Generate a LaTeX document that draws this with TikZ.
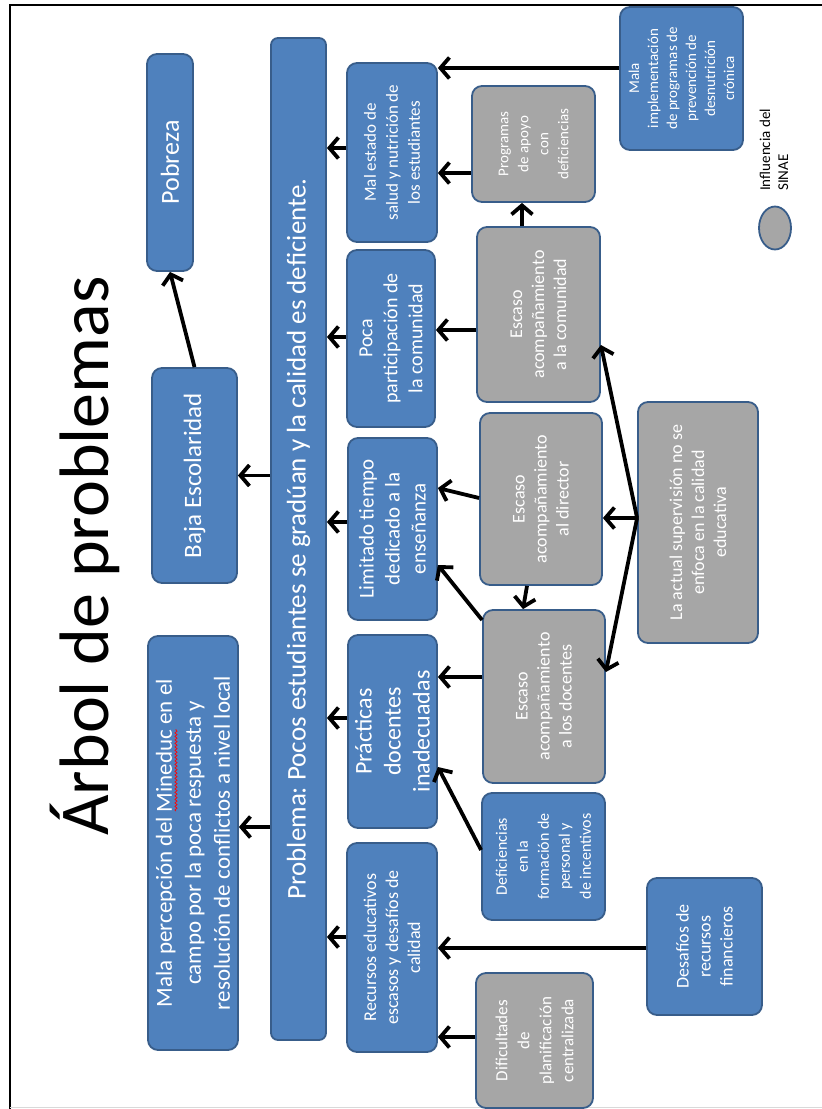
\documentclass[tikz,border=0pt]{standalone}
\usepackage{fontspec}
\setmainfont{Carlito}
\usetikzlibrary{arrows.meta,shapes.geometric,decorations.pathmorphing}
\definecolor{boxblue}{RGB}{79,129,189}
\definecolor{boxedge}{RGB}{56,93,138}
\definecolor{boxgray}{RGB}{166,166,166}
\def\fs#1#2{\fontsize{#1}{#2}\selectfont}
\frenchspacing
\tikzset{
	bluebox/.style={draw=boxedge, fill=boxblue, line width=1.8pt, rounded corners=10pt, text=white, align=center, rotate=90, inner sep=1pt},
	graybox/.style={bluebox, fill=boxgray},
	arr/.style={line width=3.8pt, -{Straight Barb[length=9pt,width=21pt]}}
}

\begin{document}
\begin{tikzpicture}[x=1pt, y=-1pt]
			%%%%% START %%%%%
			\useasboundingbox (0,0) rectangle (822,1109);
			\draw[line width=1.2pt] (10,1109) -- (10,5) -- (822,5);
			\draw[line width=0.8pt, color=black!15] (10,1107) -- (822,1107);
			
			\node[rotate=90, anchor=base, inner sep=0pt, font=\fs{70}{80}] (title) at (108,556) {Árbol de problemas};
			
			% efectos
			\node[bluebox, minimum width=217pt, minimum height=46pt, font=\fs{26}{31}] (pob) at (170,162.5) {Pobreza};
			\node[bluebox, minimum width=215pt, minimum height=85pt, font=\fs{25}{30}] (baja) at (194.5,475.5) {Baja Escolaridad};
			\node[bluebox, minimum width=414pt, minimum height=90pt, font=\fs{23}{29}] (malaper) at (193,843) {Mala percepción del Mineduc en el\\campo por la poca respuesta y\\resolución de conflictos a nivel local};
			\draw[red, line width=0.7pt, decorate, decoration={snake, amplitude=1.1pt, segment length=3.5pt}] (176,811) -- (176,729);
			
			\node[bluebox, rounded corners=7pt, minimum width=1002pt, minimum height=55pt, font=\fs{27}{32}] (prob) at (298.5,539) {Problema: Pocos estudiantes se gradúan y la calidad es deficiente.};
			
			% causas
			\node[bluebox, minimum width=179pt, minimum height=90pt, font=\fs{17}{22}] (malest) at (392,152.5) {Mal estado de\\salud y nutrición de\\los estudiantes};
			\node[bluebox, minimum width=177pt, minimum height=88pt, font=\fs{20}{25}] (poca) at (391,338.5) {Poca\\participación de\\la comunidad};
			\node[bluebox, minimum width=182pt, minimum height=89pt, font=\fs{21}{26}] (limit) at (392.5,529) {Limitado tiempo\\dedicado a la\\enseñanza};
			\node[bluebox, minimum width=193pt, minimum height=89pt, font=\fs{24}{29}] (pract) at (392.5,731.5) {Prácticas\\docentes\\inadecuadas};
			\node[bluebox, minimum width=209pt, minimum height=90pt, font=\fs{18}{22}] (recur) at (392,947.5) {Recursos educativos\\escasos y desafíos de\\calidad};
			
			\node[graybox, minimum width=116pt, minimum height=123pt, font=\fs{15}{20}] (prog) at (533.5,144) {Programas\\de apoyo\\con\\deficiencias};
			\node[graybox, minimum width=175pt, minimum height=123pt, font=\fs{18}{22}] (escom) at (538.5,314.5) {Escaso\\acompañamiento\\a la comunidad};
			\node[graybox, minimum width=172pt, minimum height=122pt, font=\fs{18}{22}] (esdir) at (541,499) {Escaso\\acompañamiento\\al director};
			\node[graybox, minimum width=173pt, minimum height=122pt, font=\fs{18}{22}] (esdoc) at (544,696.5) {Escaso\\acompañamiento\\a los docentes};
			\node[bluebox, minimum width=127pt, minimum height=123pt, font=\fs{16}{21}] (defic) at (543.5,856.5) {Deficiencias\\en la\\formación de\\personal y\\de incentivos};
			\node[graybox, minimum width=135pt, minimum height=117pt, font=\fs{17}{22}] (dific) at (534.5,1040.5) {Dificultades\\de\\planificación\\centralizada};
			
			\node[bluebox, minimum width=143pt, minimum height=123pt, font=\fs{15}{19}] (malimp) at (681.5,78.5) {Mala\\implementación\\de programas de\\prevención de\\desnutrición\\crónica};
			\node[graybox, minimum width=241pt, minimum height=120pt, font=\fs{18}{22}] (superv) at (698,522.5) {La actual supervisión no se\\enfoca en la calidad\\educativa};
			\node[bluebox, minimum width=137pt, minimum height=115pt, font=\fs{18}{22}] (desaf) at (704.5,946.5) {Desafíos de\\recursos\\financieros};
			
			% leyenda
			\node[ellipse, draw=boxedge, fill=boxgray, line width=1.8pt, minimum width=32pt, minimum height=43pt, inner sep=0pt] (legdot) at (775,228) {};
			\node[rotate=90, anchor=west, align=left, inner sep=0pt, font=\fs{15}{18}] (legtxt) at (774,191) {Influencia del\\SINAE};
			
			% flechas
			\draw[arr] (baja.east) -- (pob.west);
			\draw[arr] (prob.north |- baja) -- (baja.south);
			\draw[arr] (prob.north |- 0,827) -- (malaper.south |- 0,827);
			
			\draw[arr] (malest.north |- 0,148) -- (prob.south |- 0,148);
			\draw[arr] (poca.north |- 0,337) -- (prob.south |- 0,337);
			\draw[arr] (limit.north |- 0,522) -- (prob.south |- 0,522);
			\draw[arr] (pract.north |- 0,718) -- (prob.south |- 0,718);
			\draw[arr] (recur.north |- 0,937) -- (prob.south |- 0,937);
			
			\draw[arr] (malimp.north |- 0,68) -- (malest.south |- 0,68);
			\draw[arr] (prog.north |- 0,173) -- (malest.south |- 0,173);
			\draw[arr] (escom.east -| 522,0) -- (prog.west -| 522,0);
			\draw[arr] (escom.north |- 0,330) -- (poca.south |- 0,330);
			\draw[arr] (esdir.north |- 0,498) -- (limit.south |- 0,488);
			\draw[arr] (esdir.west -| 527,0) -- (esdoc.east -| 523,0);
			\draw[arr] (esdoc.north |- 0,620) -- (limit.south |- 0,565);
			\draw[arr] (esdoc.north |- 0,677) -- (pract.south |- 0,677);
			\draw[arr] (defic.north |- 0,850) -- (pract.south |- 0,767);
			\draw[arr] (desaf.north |- 0,948) -- (recur.south |- 0,948);
			\draw[arr] (dific.north |- 0,1037) -- (recur.south |- 0,1037);
			
			\draw[arr] (superv.north |- 0,518) -- (escom.south |- 0,345);
			\draw[arr] (superv.north |- 0,518) -- (esdir.south |- 0,518);
			\draw[arr] (superv.north |- 0,518) -- (esdoc.south |- 0,672);
			
			%%%%% END %%%%%
\end{tikzpicture}
\end{document}
